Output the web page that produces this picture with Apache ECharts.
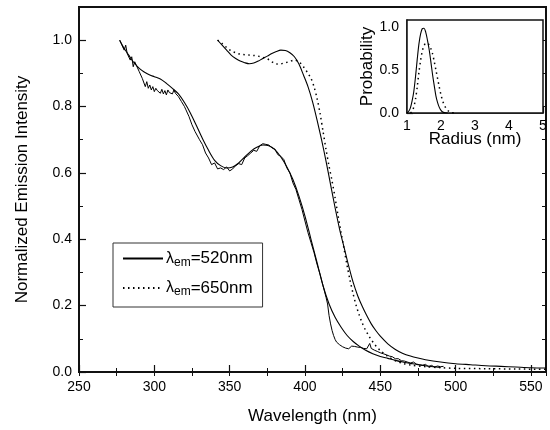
<!DOCTYPE html>
<html>
<head>
<meta charset="utf-8">
<script src="https://cdn.jsdelivr.net/npm/echarts@6/dist/echarts.min.js"></script>
<style>
  html, body { margin: 0; padding: 0; background: #fff; }
  #chart { width: 550px; height: 430px; }
</style>
</head>
<body>
<div id="chart"></div>
<script>
// lower pair of spectra: noisy trace
var noisyWl = [277,278,279,280,281,282,283,284,285,286,287,288,289,290,291,292,293,294,295,296,297,298,299,300,301,302,303,304,305,306,307,308,309,310,311,312,313,314,315,316,317,318,319,320,321,322,323,324,325,326,327,328,330,332,334,336,338,340,342,344,346,348,350,352,354,356,358,360,362,364,366,368,370,372,374,376,378,380,382,384,386,388,390,392,394,396,398,400,402,404,406,408,410,412,414,415,416,417,418,419,420,421,422,423,424,425,426,427,428,429,430,431,432,433,434,435,436,437,438,439,440,441,442,443,444,445,446,447,448,449,450,451,452,453,454,456,458,460,462,464,466,468,470,472,474,476,478,480,482,484,486,488,490,492];
var noisyVal = [1.0,0.99,0.995,0.97,0.985,0.96,0.965,0.94,0.95,0.92,0.935,0.925,0.93,0.905,0.91,0.885,0.89,0.86,0.875,0.855,0.865,0.85,0.86,0.845,0.855,0.848,0.853,0.84,0.852,0.838,0.848,0.835,0.85,0.842,0.848,0.838,0.85,0.84,0.845,0.83,0.832,0.815,0.82,0.80,0.79,0.795,0.77,0.765,0.745,0.75,0.725,0.72,0.70,0.685,0.66,0.645,0.625,0.63,0.612,0.615,0.61,0.618,0.606,0.612,0.622,0.628,0.625,0.645,0.652,0.66,0.668,0.665,0.682,0.688,0.686,0.684,0.676,0.672,0.655,0.65,0.64,0.615,0.60,0.57,0.55,0.52,0.49,0.455,0.42,0.39,0.36,0.325,0.295,0.26,0.225,0.205,0.17,0.145,0.125,0.11,0.098,0.09,0.087,0.082,0.08,0.076,0.078,0.072,0.076,0.07,0.075,0.078,0.072,0.077,0.083,0.075,0.08,0.074,0.078,0.071,0.076,0.07,0.072,0.086,0.071,0.068,0.066,0.07,0.062,0.064,0.058,0.06,0.055,0.057,0.052,0.048,0.046,0.04,0.04,0.034,0.033,0.03,0.027,0.03,0.024,0.022,0.02,0.023,0.016,0.02,0.015,0.018,0.016,0.017];

// lower pair of spectra: smooth trace
var smoothWl = [277,280,283,286,290,293,297,300,304,308,312,316,320,324,328,332,336,340,344,348,352,356,360,364,368,372,376,380,384,388,392,396,400,404,408,412,416,420,424,428,432,436,440,445,450,455,460,465,470,475,480,485,490];
var smoothVal = [1.0,0.975,0.955,0.935,0.915,0.905,0.895,0.89,0.883,0.87,0.855,0.838,0.812,0.78,0.742,0.703,0.668,0.638,0.622,0.615,0.618,0.63,0.648,0.665,0.677,0.684,0.682,0.67,0.648,0.618,0.58,0.53,0.47,0.40,0.33,0.26,0.205,0.165,0.135,0.11,0.092,0.078,0.066,0.055,0.047,0.041,0.035,0.03,0.026,0.022,0.019,0.016,0.014];

// upper pair: lambda_em = 520 nm (solid)
var em520Wl = [342,345,348,351,354,357,360,363,366,369,372,375,378,381,384,387,390,393,396,399,402,405,408,411,414,417,420,423,426,429,432,435,438,441,444,447,450,455,460,465,470,475,480,490,500,510,520,530,540,550,560];
var em520Val = [1.0,0.985,0.97,0.955,0.945,0.937,0.932,0.929,0.931,0.937,0.945,0.952,0.96,0.966,0.97,0.969,0.962,0.95,0.928,0.895,0.86,0.815,0.76,0.70,0.635,0.565,0.495,0.43,0.375,0.32,0.27,0.23,0.198,0.17,0.145,0.125,0.108,0.085,0.068,0.056,0.048,0.042,0.037,0.03,0.025,0.022,0.019,0.017,0.015,0.013,0.012];

// upper pair: lambda_em = 650 nm (dotted)
var em650Wl = [342,345,348,351,354,357,360,363,366,369,372,375,378,381,384,387,390,393,396,399,402,404,406,408,410,412,414,416,418,420,422,424,426,428,430,432,434,436,438,440,442,444,446,448,450,455,460,465,470,480,490,500,520,540,560];
var em650Val = [1.0,0.99,0.978,0.968,0.962,0.958,0.956,0.955,0.954,0.952,0.948,0.944,0.935,0.928,0.929,0.932,0.936,0.94,0.935,0.92,0.90,0.885,0.86,0.825,0.78,0.725,0.67,0.62,0.575,0.525,0.47,0.42,0.37,0.32,0.275,0.235,0.20,0.172,0.148,0.128,0.112,0.097,0.085,0.074,0.065,0.047,0.034,0.026,0.021,0.016,0.013,0.011,0.01,0.009,0.008];

// inset: size distributions
var radSolid = [1.0,1.05,1.1,1.15,1.2,1.25,1.3,1.35,1.4,1.45,1.5,1.55,1.6,1.65,1.7,1.75,1.8,1.85,1.9,1.95,2.0,2.05,2.1,2.2];
var probSolid = [0,0.02,0.06,0.14,0.25,0.42,0.62,0.8,0.92,0.98,0.985,0.94,0.85,0.74,0.6,0.45,0.32,0.2,0.12,0.065,0.03,0.012,0.004,0];
var radDot = [1.1,1.15,1.2,1.25,1.3,1.35,1.4,1.45,1.5,1.55,1.6,1.65,1.7,1.75,1.8,1.85,1.9,1.95,2.0,2.05,2.1,2.15,2.2,2.25,2.3,2.4];
var probDot = [0,0.02,0.07,0.16,0.3,0.47,0.61,0.72,0.78,0.81,0.81,0.79,0.75,0.69,0.6,0.5,0.4,0.3,0.21,0.14,0.09,0.055,0.03,0.015,0.006,0];

function pairs(xs, ys) {
  return xs.map(function (x, i) { return [x, ys[i]]; });
}

var font = 'Liberation Sans';
var axisCol = '#111';

// tick-only axis, used for minor ticks and the top/right frame ticks
function tickAxis(grid, pos, step, min, max) {
  return {
    type: 'value', gridIndex: grid, position: pos, min: min, max: max, interval: step,
    axisLine: { show: false },
    axisTick: { show: true, inside: true, length: 4, lineStyle: { color: axisCol, width: 1 } },
    axisLabel: { show: false }, splitLine: { show: false }
  };
}

var chart = echarts.init(document.getElementById('chart'));
chart.setOption({
  animation: false,
  backgroundColor: '#fff',
  textStyle: { fontFamily: font, color: '#000' },
  grid: [
    { left: 79, top: 7, width: 467, height: 366, show: true, borderColor: axisCol, borderWidth: 2, backgroundColor: '#fff' },
    { left: 407, top: 20, width: 136, height: 93, show: true, borderColor: axisCol, borderWidth: 1.5, backgroundColor: '#fff', z: 5 }
  ],
  legend: {
    data: ['520', '650'],
    orient: 'vertical',
    left: 113, top: 243,
    padding: [7, 10, 9, 9],
    itemWidth: 40, itemHeight: 14, itemGap: 11,
    borderColor: '#333', borderWidth: 1,
    backgroundColor: '#fff',
    itemStyle: { opacity: 0 },
    formatter: function (name) {
      return '{l|λ}{s|em}{t|=' + name + 'nm}';
    },
    textStyle: {
      color: '#000',
      padding: [0, 0, 0, -2],
      rich: {
        l: { fontFamily: font, fontSize: 16, lineHeight: 20, verticalAlign: 'middle', color: '#000' },
        s: { fontFamily: font, fontSize: 12, lineHeight: 5, verticalAlign: 'bottom', color: '#000' },
        t: { fontFamily: font, fontSize: 17, lineHeight: 20, verticalAlign: 'middle', color: '#000' }
      }
    }
  },
  xAxis: [
    {
      type: 'value', gridIndex: 0, position: 'bottom', min: 250, max: 560, interval: 50,
      name: 'Wavelength (nm)', nameLocation: 'middle', nameGap: 36,
      nameTextStyle: { fontFamily: font, fontSize: 17, color: '#000' },
      axisLine: { show: true, lineStyle: { color: axisCol, width: 2 } },
      axisTick: { show: true, inside: true, length: 7, lineStyle: { color: axisCol, width: 1.2 } },
      axisLabel: { fontFamily: font, fontSize: 14, color: '#000', margin: 8, showMaxLabel: false },
      splitLine: { show: false }
    },
    tickAxis(0, 'bottom', 25, 250, 560),
    tickAxis(0, 'top', 25, 250, 560),
    {
      type: 'value', gridIndex: 1, position: 'bottom', min: 1, max: 5, interval: 1,
      name: 'Radius (nm)', nameLocation: 'middle', nameGap: 18, nameMoveOverlap: false,
      nameTextStyle: { fontFamily: font, fontSize: 17, color: '#000' },
      axisLine: { show: true, lineStyle: { color: axisCol, width: 1.5 } },
      axisTick: { show: true, inside: true, length: 6, lineStyle: { color: axisCol, width: 1.2 } },
      axisLabel: { fontFamily: font, fontSize: 14, color: '#000', margin: 6 },
      splitLine: { show: false }
    },
    tickAxis(1, 'bottom', 0.5, 1, 5)
  ],
  yAxis: [
    {
      type: 'value', gridIndex: 0, position: 'left', min: 0, max: 1.1, interval: 0.2,
      name: 'Normalized Emission Intensity', nameLocation: 'middle', nameGap: 48,
      nameTextStyle: { fontFamily: font, fontSize: 17, color: '#000' },
      axisLine: { show: true, lineStyle: { color: axisCol, width: 2 } },
      axisTick: { show: true, inside: true, length: 7, lineStyle: { color: axisCol, width: 1.2 } },
      axisLabel: { fontFamily: font, fontSize: 14, color: '#000', margin: 7, showMaxLabel: false,
        formatter: function (v) { return v.toFixed(1); } },
      splitLine: { show: false }
    },
    tickAxis(0, 'left', 0.1, 0, 1.1),
    tickAxis(0, 'right', 0.1, 0, 1.1),
    {
      type: 'value', gridIndex: 1, position: 'left', min: 0, max: 1.08, interval: 0.5,
      name: 'Probability', nameLocation: 'middle', nameGap: 31,
      nameTextStyle: { fontFamily: font, fontSize: 17, color: '#000' },
      axisLine: { show: true, lineStyle: { color: axisCol, width: 1.5 } },
      axisTick: { show: true, inside: true, length: 6, lineStyle: { color: axisCol, width: 1.2 } },
      axisLabel: { fontFamily: font, fontSize: 14, color: '#000', margin: 8, showMaxLabel: false,
        formatter: function (v) { return v.toFixed(1); } },
      splitLine: { show: false }
    },
    tickAxis(1, 'left', 0.25, 0, 1.08)
  ],
  series: [
    {
      name: 'exc-noisy', type: 'line', xAxisIndex: 0, yAxisIndex: 0,
      data: pairs(noisyWl, noisyVal), symbol: 'none', showSymbol: false,
      lineStyle: { color: '#000', width: 1 }
    },
    {
      name: 'exc-smooth', type: 'line', xAxisIndex: 0, yAxisIndex: 0, smooth: 0.3,
      data: pairs(smoothWl, smoothVal), symbol: 'none', showSymbol: false,
      lineStyle: { color: '#000', width: 1.1 }
    },
    {
      name: '520', type: 'line', xAxisIndex: 0, yAxisIndex: 0, smooth: 0.3,
      data: pairs(em520Wl, em520Val), symbol: 'none', showSymbol: false,
      itemStyle: { color: '#000' },
      lineStyle: { color: '#000', width: 1.1 }
    },
    {
      name: '650', type: 'line', xAxisIndex: 0, yAxisIndex: 0, smooth: 0.3,
      data: pairs(em650Wl, em650Val), symbol: 'none', showSymbol: false,
      itemStyle: { color: '#000' },
      lineStyle: { color: '#000', width: 1.5, type: [1.5, 3.5] }
    },
    {
      name: 'r-solid', type: 'line', xAxisIndex: 3, yAxisIndex: 3, smooth: 0.3, z: 6,
      data: pairs(radSolid, probSolid), symbol: 'none', showSymbol: false,
      lineStyle: { color: '#000', width: 1.1 }
    },
    {
      name: 'r-dot', type: 'line', xAxisIndex: 3, yAxisIndex: 3, smooth: 0.3, z: 6,
      data: pairs(radDot, probDot), symbol: 'none', showSymbol: false,
      lineStyle: { color: '#000', width: 1.5, type: [1.5, 3.5] }
    }
  ]
});
</script>
</body>
</html>
